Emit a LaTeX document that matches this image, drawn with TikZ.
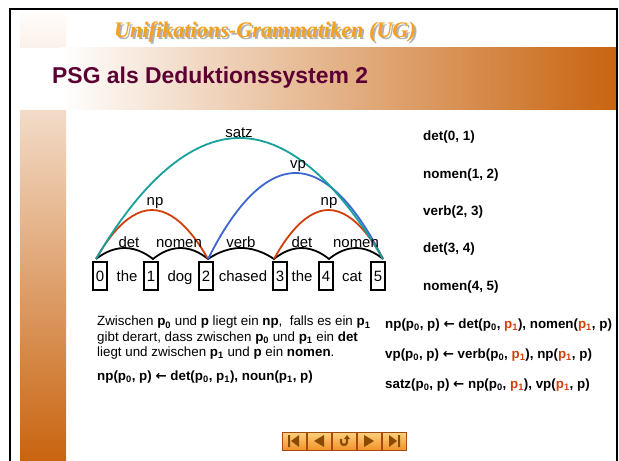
\documentclass[tikz,border=0pt]{standalone}
\usepackage{fontspec}
\setmainfont{Liberation Sans}
\newfontfamily\scriptface{Liberation Serif}
\newfontfamily\arrowface{DejaVu Sans}
\usetikzlibrary{calc,positioning}
\definecolor{slideorange}{HTML}{C8640F}
\definecolor{bartop}{HTML}{FFFCFB}
\definecolor{titlemaroon}{HTML}{5C0033}
\definecolor{scriptorange}{HTML}{F5A01E}
\definecolor{satzteal}{HTML}{15A09C}
\definecolor{npred}{HTML}{D0400C}
\definecolor{vpblue}{HTML}{3D66D0}
\definecolor{rulered}{HTML}{D04010}
\definecolor{navbrown}{HTML}{A84A10}
\definecolor{navlight}{HTML}{FFD27E}
\definecolor{navdark}{HTML}{F0922A}
\definecolor{navglyph}{HTML}{8A4A00}
\newcommand{\pz}{p\textsubscript{0}}
\newcommand{\pe}{p\textsubscript{1}}
\newcommand{\pr}{\textcolor{rulered}{p\textsubscript{1}}}
\newcommand{\larr}{{\arrowface\bfseries ←}}

\begin{document}
\begin{tikzpicture}[x=1bp,y=-1bp,every node/.style={inner sep=0pt},
  chartfont/.style={font=\fontsize{15}{18}\selectfont},
  posbox/.style={draw,line width=1.6bp,minimum width=14bp,minimum height=28bp,chartfont},
  bump/.style={line width=1.8bp,black},
  chartarc/.style={line width=1.8bp},
  facttext/.style={anchor=west,font=\bfseries\fontsize{13.5}{16}\selectfont},
  ruletext/.style={anchor=west,font=\bfseries\fontsize{13.4}{16}\selectfont},
  navbtn/.style={draw=navbrown,line width=1bp,top color=navlight,bottom color=navdark,minimum width=24bp,minimum height=18bp},
  navmark/.style={fill=navglyph}]
\useasboundingbox (0,0) rectangle (619,461);
%%
% slide background
\fill[white] (0,0) rectangle (619,461);
\shade[top color=bartop,bottom color=slideorange] (20,14) rectangle (66,461);
\fill[white] (20,48) rectangle (60,110);
\shade[left color=white,right color=slideorange] (60,48) rectangle (617,110);
\draw[line width=2bp] (10,470) -- (10,9) -- (617,9) -- (617,470);
%
% Node: script heading
\node[text=gray!60,font=\scriptface\bfseries\itshape\fontsize{22.3}{26}\selectfont] at (267,34) {Unifikations-Grammatiken (UG)};
\node[text=scriptorange,font=\scriptface\bfseries\itshape\fontsize{22.3}{26}\selectfont] (heading) at (265,32) {Unifikations-Grammatiken (UG)};
% Node: slide title
\node[anchor=west,text=titlemaroon,font=\bfseries\fontsize{23}{28}\selectfont] (title) at (52,78) {PSG als Deduktionssystem 2};
%
% chart positions
\coordinate (p0) at (96,259);
\coordinate (p1) at (153,259);
\coordinate (p2) at (208,259);
\coordinate (p3) at (274,259);
\coordinate (p4) at (329,259);
\coordinate (p5) at (383,259);
% Edge: words p0 -> p5
\draw[bump] (p0) parabola bend ($(p0)!.5!(p1)+(0,-11)$) (p1)
  parabola bend ($(p1)!.5!(p2)+(0,-11)$) (p2)
  parabola bend ($(p2)!.5!(p3)+(0,-11)$) (p3)
  parabola bend ($(p3)!.5!(p4)+(0,-11)$) (p4)
  parabola bend ($(p4)!.5!(p5)+(0,-11)$) (p5);
% Edge: np p0 -> p2
\draw[chartarc,npred] (p0) parabola bend ($(p0)!.5!(p2)+(0,-49)$) (p2);
% Edge: vp p2 -> p5
\draw[chartarc,vpblue] (p2) parabola bend ($(p2)!.5!(p5)+(0,-86)$) (p5);
% Edge: np p3 -> p5
\draw[chartarc,npred] (p3) parabola bend ($(p3)!.5!(p5)+(0,-49)$) (p5);
% Edge: satz p0 -> p5
\draw[chartarc,satzteal] (p0) parabola bend ($(p0)!.5!(p5)+(0,-121)$) (p5);
%
% Node: edge labels
\node[chartfont,anchor=base] (ldet1) at (129,248) {det};
\node[chartfont,anchor=base] (lnomen1) at (179,248) {nomen};
\node[chartfont,anchor=base] (lverb) at (241,248) {verb};
\node[chartfont,anchor=base] (ldet2) at (302,248) {det};
\node[chartfont,anchor=base] (lnomen2) at (356,248) {nomen};
\node[chartfont,anchor=base] (lnp1) at (155,206) {np};
\node[chartfont,anchor=base] (lnp2) at (329,206) {np};
\node[chartfont,anchor=base] (lvp) at (298,169) {vp};
\node[chartfont,anchor=base] (lsatz) at (239,138) {satz};
%
% Node: positions and words
\node[posbox] (b0) at (100,276) {0};
\node[posbox] (b1) at (151,276) {1};
\node[posbox] (b2) at (206,276) {2};
\node[posbox] (b3) at (280,276) {3};
\node[posbox] (b4) at (326,276) {4};
\node[posbox] (b5) at (378,276) {5};
\node[chartfont,anchor=base] (w1) at (127,282) {the};
\node[chartfont,anchor=base] (w2) at (180,282) {dog};
\node[chartfont,anchor=base] (w3) at (243,282) {chased};
\node[chartfont,anchor=base] (w4) at (302,282) {the};
\node[chartfont,anchor=base] (w5) at (352,282) {cat};
%
% Node: facts
\node[facttext] (f1) at (423,137) {det(0, 1)};
\node[facttext] (f2) at (423,175) {nomen(1, 2)};
\node[facttext] (f3) at (423,212) {verb(2, 3)};
\node[facttext] (f4) at (423,249) {det(3, 4)};
\node[facttext] (f5) at (423,287) {nomen(4, 5)};
%
% Node: explanation
\node[anchor=north west,align=left,font=\fontsize{13.4}{15.5}\selectfont] (expl) at (97,316)
  {Zwischen \textbf{\pz} und \textbf{p} liegt ein \textbf{np},\ \ falls es ein \textbf{\pe}\\
   gibt derart, dass zwischen \textbf{\pz} und \textbf{\pe} ein \textbf{det}\\
   liegt und zwischen \textbf{\pe} und \textbf{p} ein \textbf{nomen}.};
\node[ruletext] (nprule0) at (97,377) {np(\pz, p) \larr{} det(\pz, \pe), noun(\pe, p)};
%
% Node: rules
\node[ruletext] (r1) at (385,325) {np(\pz, p) \larr{} det(\pz, \pr), nomen(\pr, p)};
\node[ruletext] (r2) at (385,355) {vp(\pz, p) \larr{} verb(\pz, \pr), np(\pr, p)};
\node[ruletext] (r3) at (385,385) {satz(\pz, p) \larr{} np(\pz, \pr), vp(\pr, p)};
%
% Node: navigation
\node[navbtn] (nav1) at (294,441) {};
\node[navbtn,right=0pt of nav1] (nav2) {};
\node[navbtn,right=0pt of nav2] (nav3) {};
\node[navbtn,right=0pt of nav3] (nav4) {};
\node[navbtn,right=0pt of nav4] (nav5) {};
\fill[navmark,shift={(nav1.center)}] (-6,-6) rectangle (-4,6) (5,-6) -- (5,6) -- (-3,0) -- cycle;
\fill[navmark,shift={(nav2.center)}] (5,-6) -- (5,6) -- (-5,0) -- cycle;
\draw[navglyph,line width=2.2bp,shift={(nav3.center)}] (-3,-2) -- (-3,1) arc[start angle=180,end angle=0,radius=3] -- (3,-2);
\fill[navmark,shift={(nav3.center)}] (0,-2) -- (6,-2) -- (3,-6) -- cycle;
\fill[navmark,shift={(nav4.center)}] (-5,-6) -- (-5,6) -- (5,0) -- cycle;
\fill[navmark,shift={(nav5.center)}] (4,-6) rectangle (6,6) (-5,-6) -- (-5,6) -- (3,0) -- cycle;
%
\end{tikzpicture}
\end{document}
